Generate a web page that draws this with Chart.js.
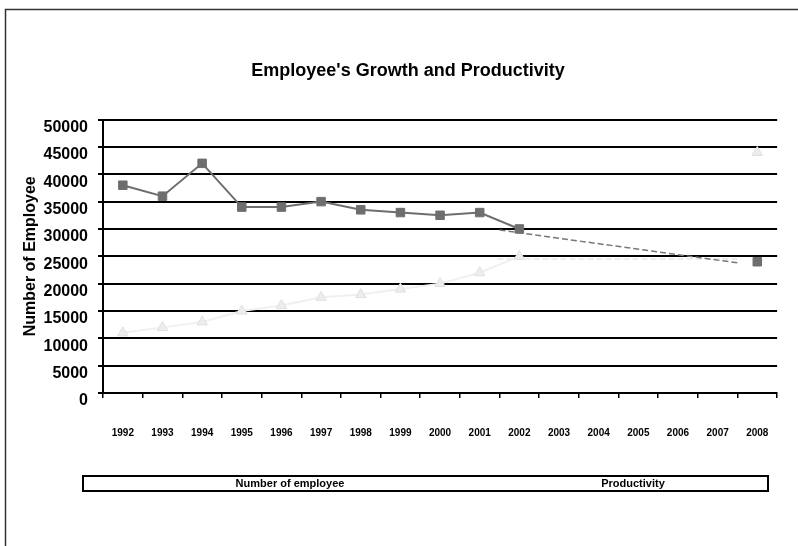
<!DOCTYPE html>
<html>
<head>
<meta charset="utf-8">
<title>Employee's Growth and Productivity</title>
<script src="https://cdn.jsdelivr.net/npm/chart.js@4/dist/chart.umd.min.js"></script>
<style>
    html, body { margin: 0; padding: 0; background: #fff; }
    #wrap { width: 798px; height: 546px; position: relative; }
</style>
</head>
<body>
<div id="wrap"><canvas id="myChart"></canvas></div>
<script>
const years = ["1992", "1993", "1994", "1995", "1996", "1997", "1998", "1999", "2000",
    "2001", "2002", "2003", "2004", "2005", "2006", "2007", "2008"];
const employees = [38000, 36000, 42000, 34000, 34000, 35000, 33500, 33000, 32500,
    33000, 30000, null, null, null, null, null, 24000];
const productivity = [11000, 12000, 13000, 15000, 16000, 17500, 18000, 19000, 20000,
    22000, 25000, null, null, null, null, null, 44000];
// trend lines, x is the category index (fractional)
const employeeTrend = [{ x: 9.5, y: 29800 }, { x: 15.5, y: 23800 }];
const productivityTrend = [{ x: 9.45, y: 24500 }, { x: 15.6, y: 24500 }];
const yMin = 0;
const yMax = 50000;
const yStep = 5000;

const FONT = "Arial, 'Liberation Sans', sans-serif";

// legend in a box under the chart, plus the outer frame
const boxLegend = {
    id: "boxLegend",
    afterDraw(chart) {
        const ctx = chart.ctx;
        ctx.save();
        ctx.strokeStyle = "#333";
        ctx.lineWidth = 1.5;
        ctx.strokeRect(5.5, 9.5, 900, 700);

        ctx.strokeStyle = "#000";
        ctx.lineWidth = 2;
        ctx.strokeRect(83, 476, 685, 15);
        ctx.fillStyle = "#000";
        ctx.font = "bold 11px " + FONT;
        ctx.textAlign = "center";
        ctx.textBaseline = "middle";
        const centers = [290, 633];
        chart.data.datasets.slice(0, 2).forEach((ds, i) => {
            ctx.fillText(ds.label, centers[i], 484);
        });
        ctx.restore();
    }
};

const ctx = document.getElementById("myChart");
const chart = new Chart(ctx, {
    type: "line",
    data: {
        labels: years,
        datasets: [{
            label: "Number of employee",
            data: employees,
            borderColor: "#6e6e6e",
            backgroundColor: "#6e6e6e",
            pointBackgroundColor: "#6e6e6e",
            pointBorderColor: "#6e6e6e",
            pointStyle: "rect",
            pointRadius: 6,
            pointBorderWidth: 1,
            borderWidth: 2,
            spanGaps: false,
        }, {
            label: "Productivity",
            data: productivity,
            borderColor: "#f0f0f0",
            backgroundColor: "#ededed",
            pointBackgroundColor: "#ededed",
            pointBorderColor: "#e0e0e0",
            pointStyle: "triangle",
            pointRadius: 6,
            pointBorderWidth: 1,
            borderWidth: 2,
            spanGaps: false,
        }, {
            label: "Employee trend",
            data: employeeTrend,
            xAxisID: "xt",
            borderColor: "#777",
            borderDash: [6, 3],
            borderWidth: 1.5,
            pointRadius: 0,
        }, {
            label: "Productivity trend",
            data: productivityTrend,
            xAxisID: "xt",
            borderColor: "#e8e8e8",
            borderDash: [6, 3],
            borderWidth: 1.5,
            pointRadius: 0,
        }],
    },
    options: {
        animation: false,
        responsive: true,
        maintainAspectRatio: false,
        devicePixelRatio: 1,
        layout: { padding: { left: 18, right: 0, top: 0, bottom: 0 } },
        plugins: {
            legend: { display: false },
            tooltip: { enabled: false },
            title: {
                display: true,
                text: "Employee's Growth and Productivity",
                color: "#000",
                font: { family: FONT, size: 18, weight: "bold" },
                padding: { top: 60, bottom: 38 },
            },
        },
        scales: {
            x: {
                type: "category",
                offset: true,
                grid: {
                    offset: true,
                    drawOnChartArea: false,
                    drawTicks: true,
                    tickLength: 5,
                    color: "#000",
                    lineWidth: 1.5,
                },
                border: { display: true, color: "#000", width: 2 },
                ticks: {
                    color: "#000",
                    font: { family: FONT, size: 10, weight: "bold" },
                    padding: 29,
                    maxRotation: 0,
                    autoSkip: false,
                },
                afterFit: scale => { scale.height = 153; },
            },
            xt: {
                type: "linear",
                display: false,
                min: -0.5,
                max: years.length - 0.5,
            },
            y: {
                min: yMin,
                max: yMax,
                ticks: {
                    stepSize: yStep,
                    color: "#000",
                    font: { family: FONT, size: 16, weight: "bold" },
                    padding: 10,
                    labelOffset: 8,
                    callback: value => String(value),
                },
                grid: { color: "#000", lineWidth: 2, tickLength: 5 },
                border: { display: true, color: "#000", width: 2 },
                title: {
                    display: true,
                    text: "Number of Employee",
                    color: "#000",
                    font: { family: FONT, size: 16, weight: "bold" },
                    padding: { top: 3, bottom: 0 },
                },
                afterFit: scale => { scale.width = 85; },
            },
            // empty right axis, only keeps a margin on the right
            yr: {
                position: "right",
                min: 0,
                max: 1,
                ticks: { display: false },
                grid: { display: false },
                border: { display: false },
                afterFit: scale => { scale.width = 20; },
            },
        },
    },
    plugins: [boxLegend],
});
</script>
</body>
</html>
